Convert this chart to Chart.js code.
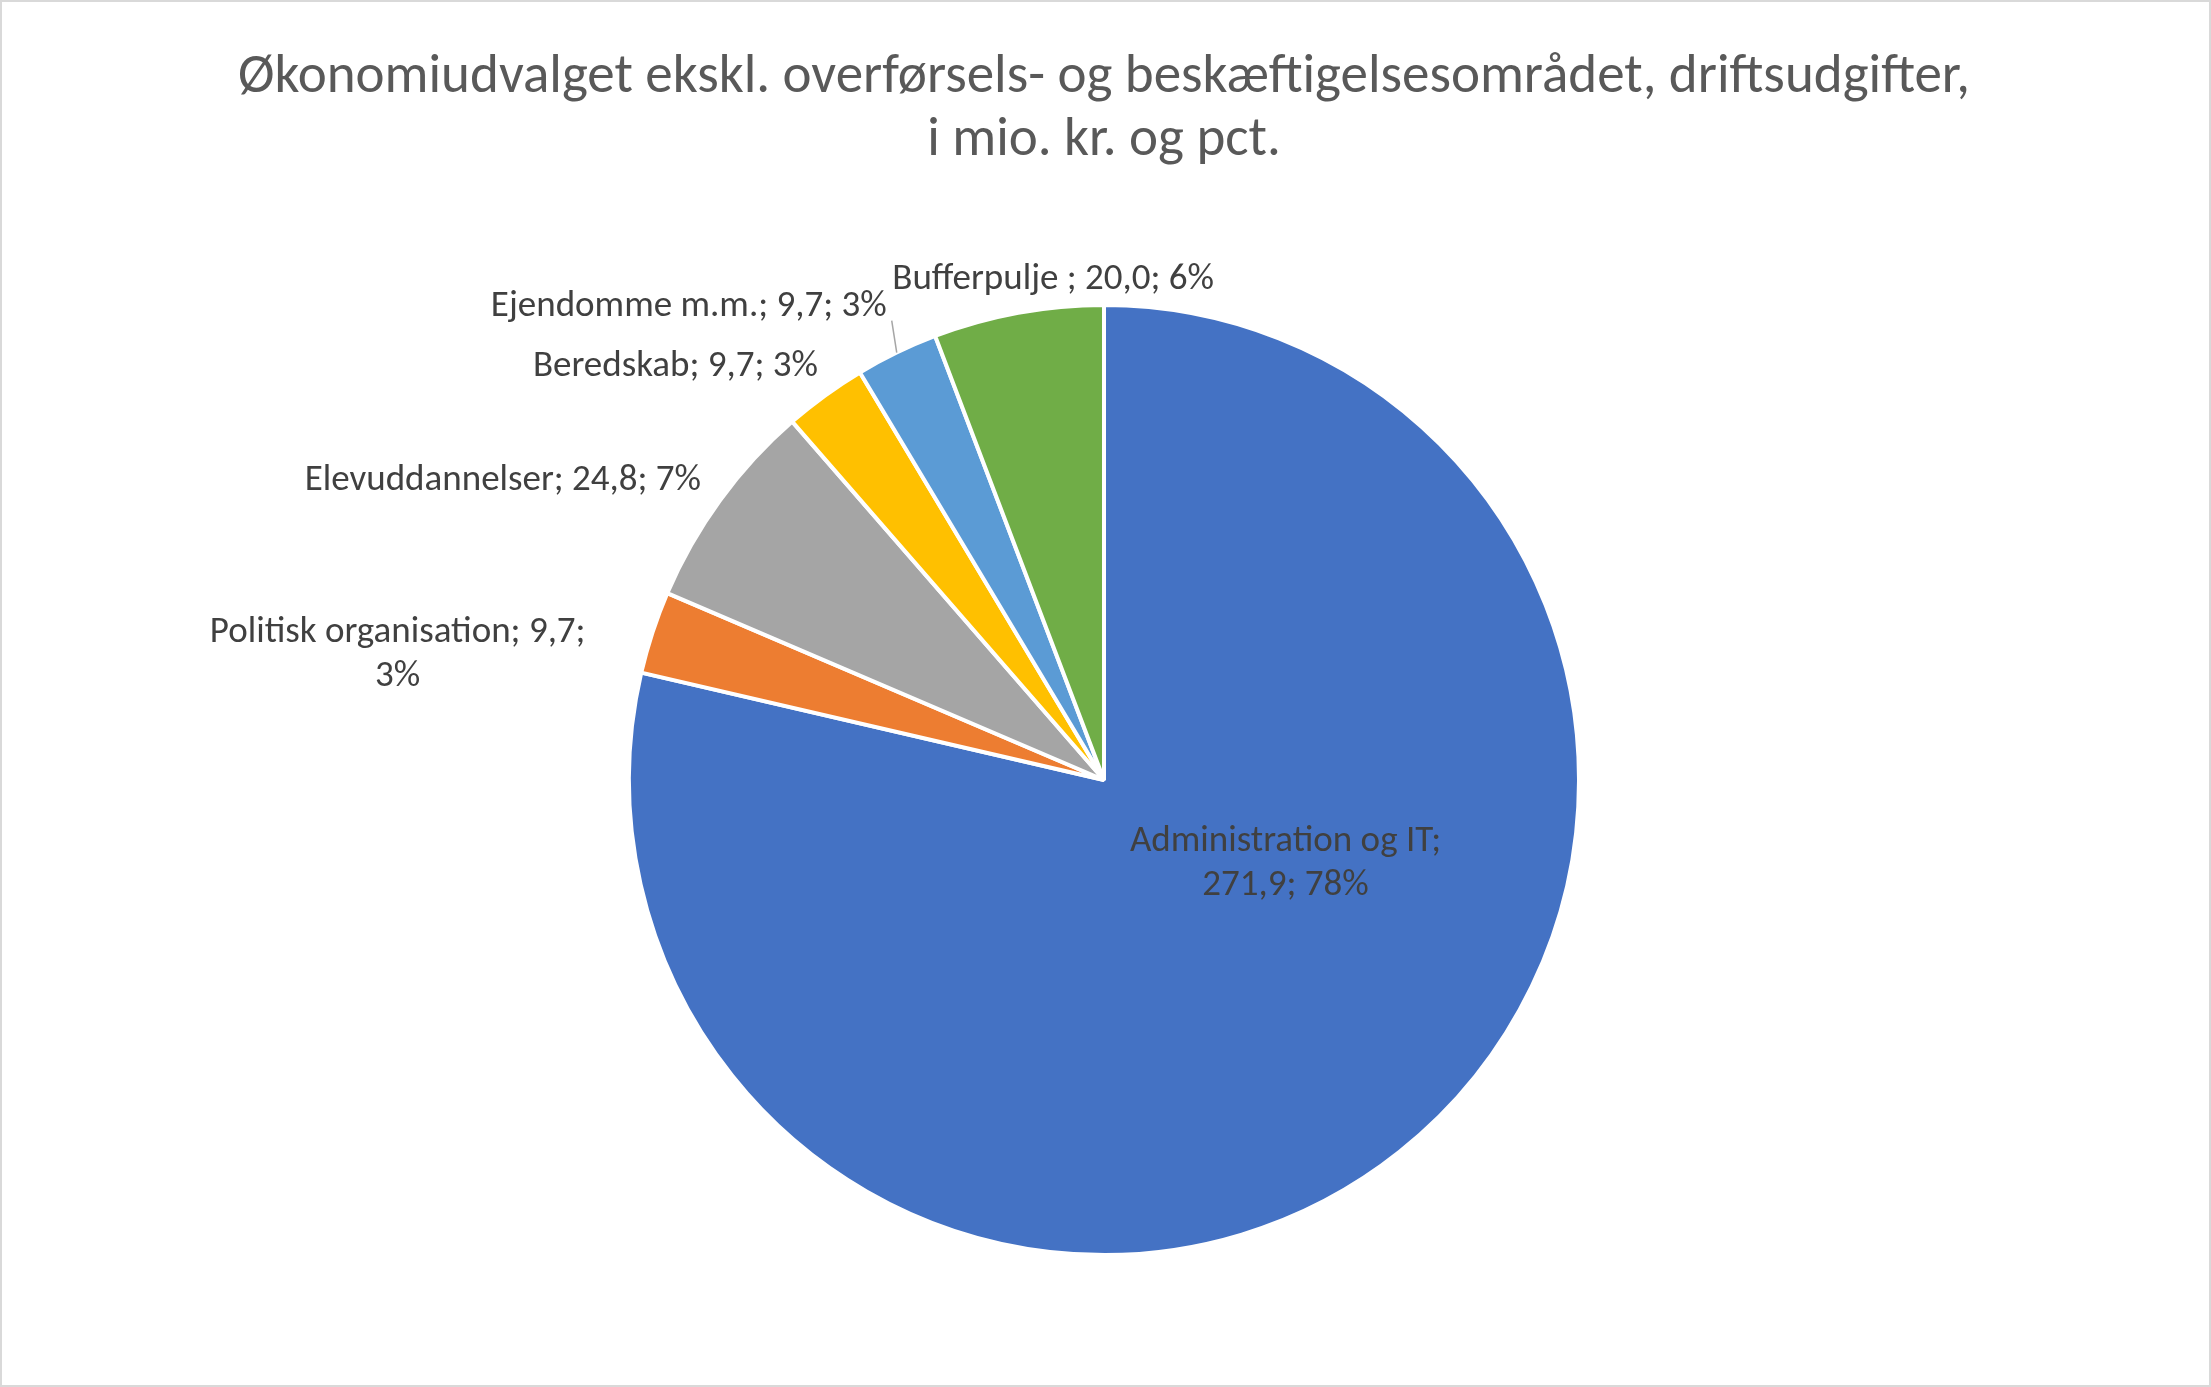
<!DOCTYPE html>
<html>
<head>
<meta charset="utf-8">
<script src="https://cdn.jsdelivr.net/npm/chart.js@4.4.1/dist/chart.umd.min.js"></script>
<style>
html,body{margin:0;padding:0;background:#fff;}
canvas{display:block;}
</style>
</head>
<body>
<canvas id="c" width="2211" height="1387" style="width:2211px;height:1387px"></canvas>
<script>
// ---- data ----
const titleLines = ['Økonomiudvalget ekskl. overførsels- og beskæftigelsesområdet, driftsudgifter,', 'i mio. kr. og pct.'];
const categories = ['Administration og IT', 'Politisk organisation', 'Elevuddannelser', 'Beredskab', 'Ejendomme m.m.', 'Bufferpulje '];
const values = [271.9, 9.7, 24.8, 9.7, 9.7, 20.0];
const pctLabels = ['78%', '3%', '7%', '3%', '3%', '6%'];

// ---- styles / layout ----
const colors = ['#4472C4', '#ED7D31', '#A5A5A5', '#FFC000', '#5B9BD5', '#70AD47'];
const FONT = 'Carlito, Lato, sans-serif';
const labelFontSize = 37;
const labelLineGap = 44;
// placement of each data label relative to the slice's mid-angle point on the rim
const placement = [
  {mode: 'center', dx: -114, dy: -288, breakAfter: 1},
  {mode: 'right', dx: -67, dy: 22, breakAfter: 2},
  {mode: 'right', dx: -19, dy: -20},
  {mode: 'right', dx: -7, dy: -29},
  {mode: 'right', dx: -10, dy: -46, leader: [-5, -32]},
  {mode: 'center', dx: 35, dy: -33}
];

function labelParts(i) {
  return [categories[i], values[i].toFixed(1).replace('.', ','), pctLabels[i]];
}

const bgPlugin = {
  id: 'bg',
  beforeDraw(chart) {
    const ctx = chart.ctx;
    ctx.save();
    ctx.fillStyle = '#fff';
    ctx.fillRect(0, 0, chart.width, chart.height);
    ctx.strokeStyle = '#d9d9d9';
    ctx.lineWidth = 2;
    ctx.strokeRect(1, 1, chart.width - 2, chart.height - 2);
    ctx.restore();
  }
};

const labelPlugin = {
  id: 'sliceLabels',
  afterDatasetsDraw(chart) {
    const ctx = chart.ctx;
    const meta = chart.getDatasetMeta(0);
    ctx.save();
    ctx.font = labelFontSize + 'px ' + FONT;
    ctx.fillStyle = '#404040';
    ctx.textBaseline = 'middle';
    ctx.textAlign = 'center';
    meta.data.forEach((arc, i) => {
      const p = arc.getProps(['x', 'y', 'startAngle', 'endAngle', 'outerRadius'], true);
      const mid = (p.startAngle + p.endAngle) / 2;
      const ex = p.x + Math.cos(mid) * p.outerRadius;
      const ey = p.y + Math.sin(mid) * p.outerRadius;
      const pl = placement[i];
      const parts = labelParts(i);
      let lines;
      if (pl.breakAfter) {
        lines = [parts.slice(0, pl.breakAfter).join('; ') + ';', parts.slice(pl.breakAfter).join('; ')];
      } else {
        lines = [parts.join('; ')];
      }
      const w = Math.max(...lines.map(l => ctx.measureText(l).width));
      let cx;
      if (pl.mode === 'right') cx = ex + pl.dx - w / 2;
      else cx = ex + pl.dx;
      const cy = ey + pl.dy;
      lines.forEach((l, k) => {
        ctx.fillText(l, cx, cy + (k - (lines.length - 1) / 2) * labelLineGap);
      });
      if (pl.leader) {
        ctx.strokeStyle = '#a6a6a6';
        ctx.lineWidth = 1.5;
        ctx.beginPath();
        ctx.moveTo(ex, ey);
        ctx.lineTo(ex + pl.leader[0], ey + pl.leader[1]);
        ctx.stroke();
      }
    });
    ctx.restore();
  }
};

new Chart(document.getElementById('c'), {
  type: 'pie',
  data: {
    labels: categories,
    datasets: [{
      data: values,
      backgroundColor: colors,
      borderColor: '#ffffff',
      borderWidth: 4
    }]
  },
  options: {
    responsive: false,
    animation: false,
    devicePixelRatio: 1,
    layout: {padding: {left: 0, right: 3, top: 0, bottom: 130}},
    plugins: {
      legend: {display: false},
      tooltip: {enabled: false},
      title: {
        display: true,
        text: titleLines,
        color: '#595959',
        font: {family: FONT, size: 55, weight: 'normal', lineHeight: 1.145},
        padding: {top: 46.5, bottom: 130.5}
      }
    }
  },
  plugins: [bgPlugin, labelPlugin]
});
</script>
</body>
</html>
